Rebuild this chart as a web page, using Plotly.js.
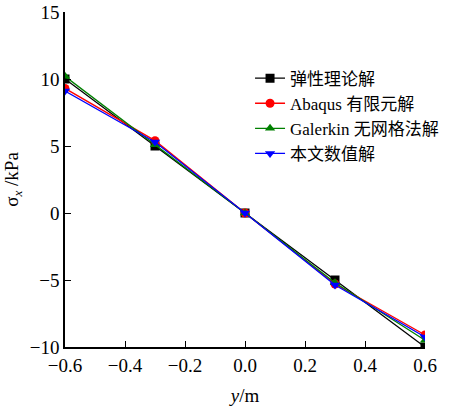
<!DOCTYPE html>
<html><head><meta charset="utf-8">
<script src="https://cdn.plot.ly/plotly-3.0.1.min.js"></script>
<style>body{margin:0}#c{width:462px;height:412px}</style>
</head><body><div id="c"></div>
<script>
const yPos = [-0.6, -0.3, 0, 0.3, 0.6];
const theory = [10, 5, 0, -5, -10];
const abaqus = [9.3, 5.4, 0, -5.3, -9.1];
const galerkin = [10.2, 5.1, 0, -5.2, -9.5];
const present = [9.1, 5.3, 0, -5.37, -9.25];
const names = ['弹性理论解', 'Abaqus 有限元解', 'Galerkin 无网格法解', '本文数值解'];
const xTickVals = [-0.6, -0.4, -0.2, 0, 0.2, 0.4, 0.6];
const xTickText = ['−0.6', '−0.4', '−0.2', '0.0', '0.2', '0.4', '0.6'];
const yTickVals = [-10, -5, 0, 5, 10, 15];
const yTickText = ['−10', '−5', '0', '5', '10', '15'];
const series = [theory, abaqus, galerkin, present];
const colors = ['#000000', '#ff0000', '#008000', '#0000ff'];
const symbols = ['square', 'circle', 'triangle-up', 'triangle-down'];

const traces = series.map((s, i) => ({
  x: yPos, y: s, name: names[i], type: 'scatter', mode: 'lines+markers',
  line: {color: colors[i], width: 1.3},
  marker: {symbol: symbols[i], size: 9, color: colors[i]}
}));

const fam = "'Liberation Serif', 'Noto Sans CJK SC', serif";
const tf = {family: fam, size: 19, color: '#000'};
const layout = {
  width: 462, height: 412,
  margin: {l: 65, r: 37, t: 12, b: 65},
  paper_bgcolor: '#fff', plot_bgcolor: '#fff',
  font: {family: fam, size: 19, color: '#000'},
  showlegend: true,
  legend: {x: 0.514, y: 0.855, xanchor: 'left', yanchor: 'top',
    font: {family: fam, size: 17, color: '#000'},
    bgcolor: 'rgba(0,0,0,0)', tracegroupgap: 0},
  xaxis: {range: [-0.6, 0.6], tickvals: xTickVals, ticktext: xTickText, tickfont: tf,
    ticks: 'inside', ticklen: 6, tickcolor: '#000', showline: true, linecolor: '#000', linewidth: 1.5,
    showgrid: false, zeroline: false,
    title: {text: '<i>y</i>/m', font: tf, standoff: 14}},
  yaxis: {range: [-10, 15], tickvals: yTickVals, ticktext: yTickText, tickfont: tf,
    ticks: 'inside', ticklen: 6, tickcolor: '#000', showline: true, linecolor: '#000', linewidth: 1.5,
    showgrid: false, zeroline: false,
    title: {text: 'σ<sub><i>x</i></sub> /kPa', font: tf, standoff: 6}}
};
Plotly.newPlot('c', traces, layout, {displayModeBar: false});
</script></body></html>
